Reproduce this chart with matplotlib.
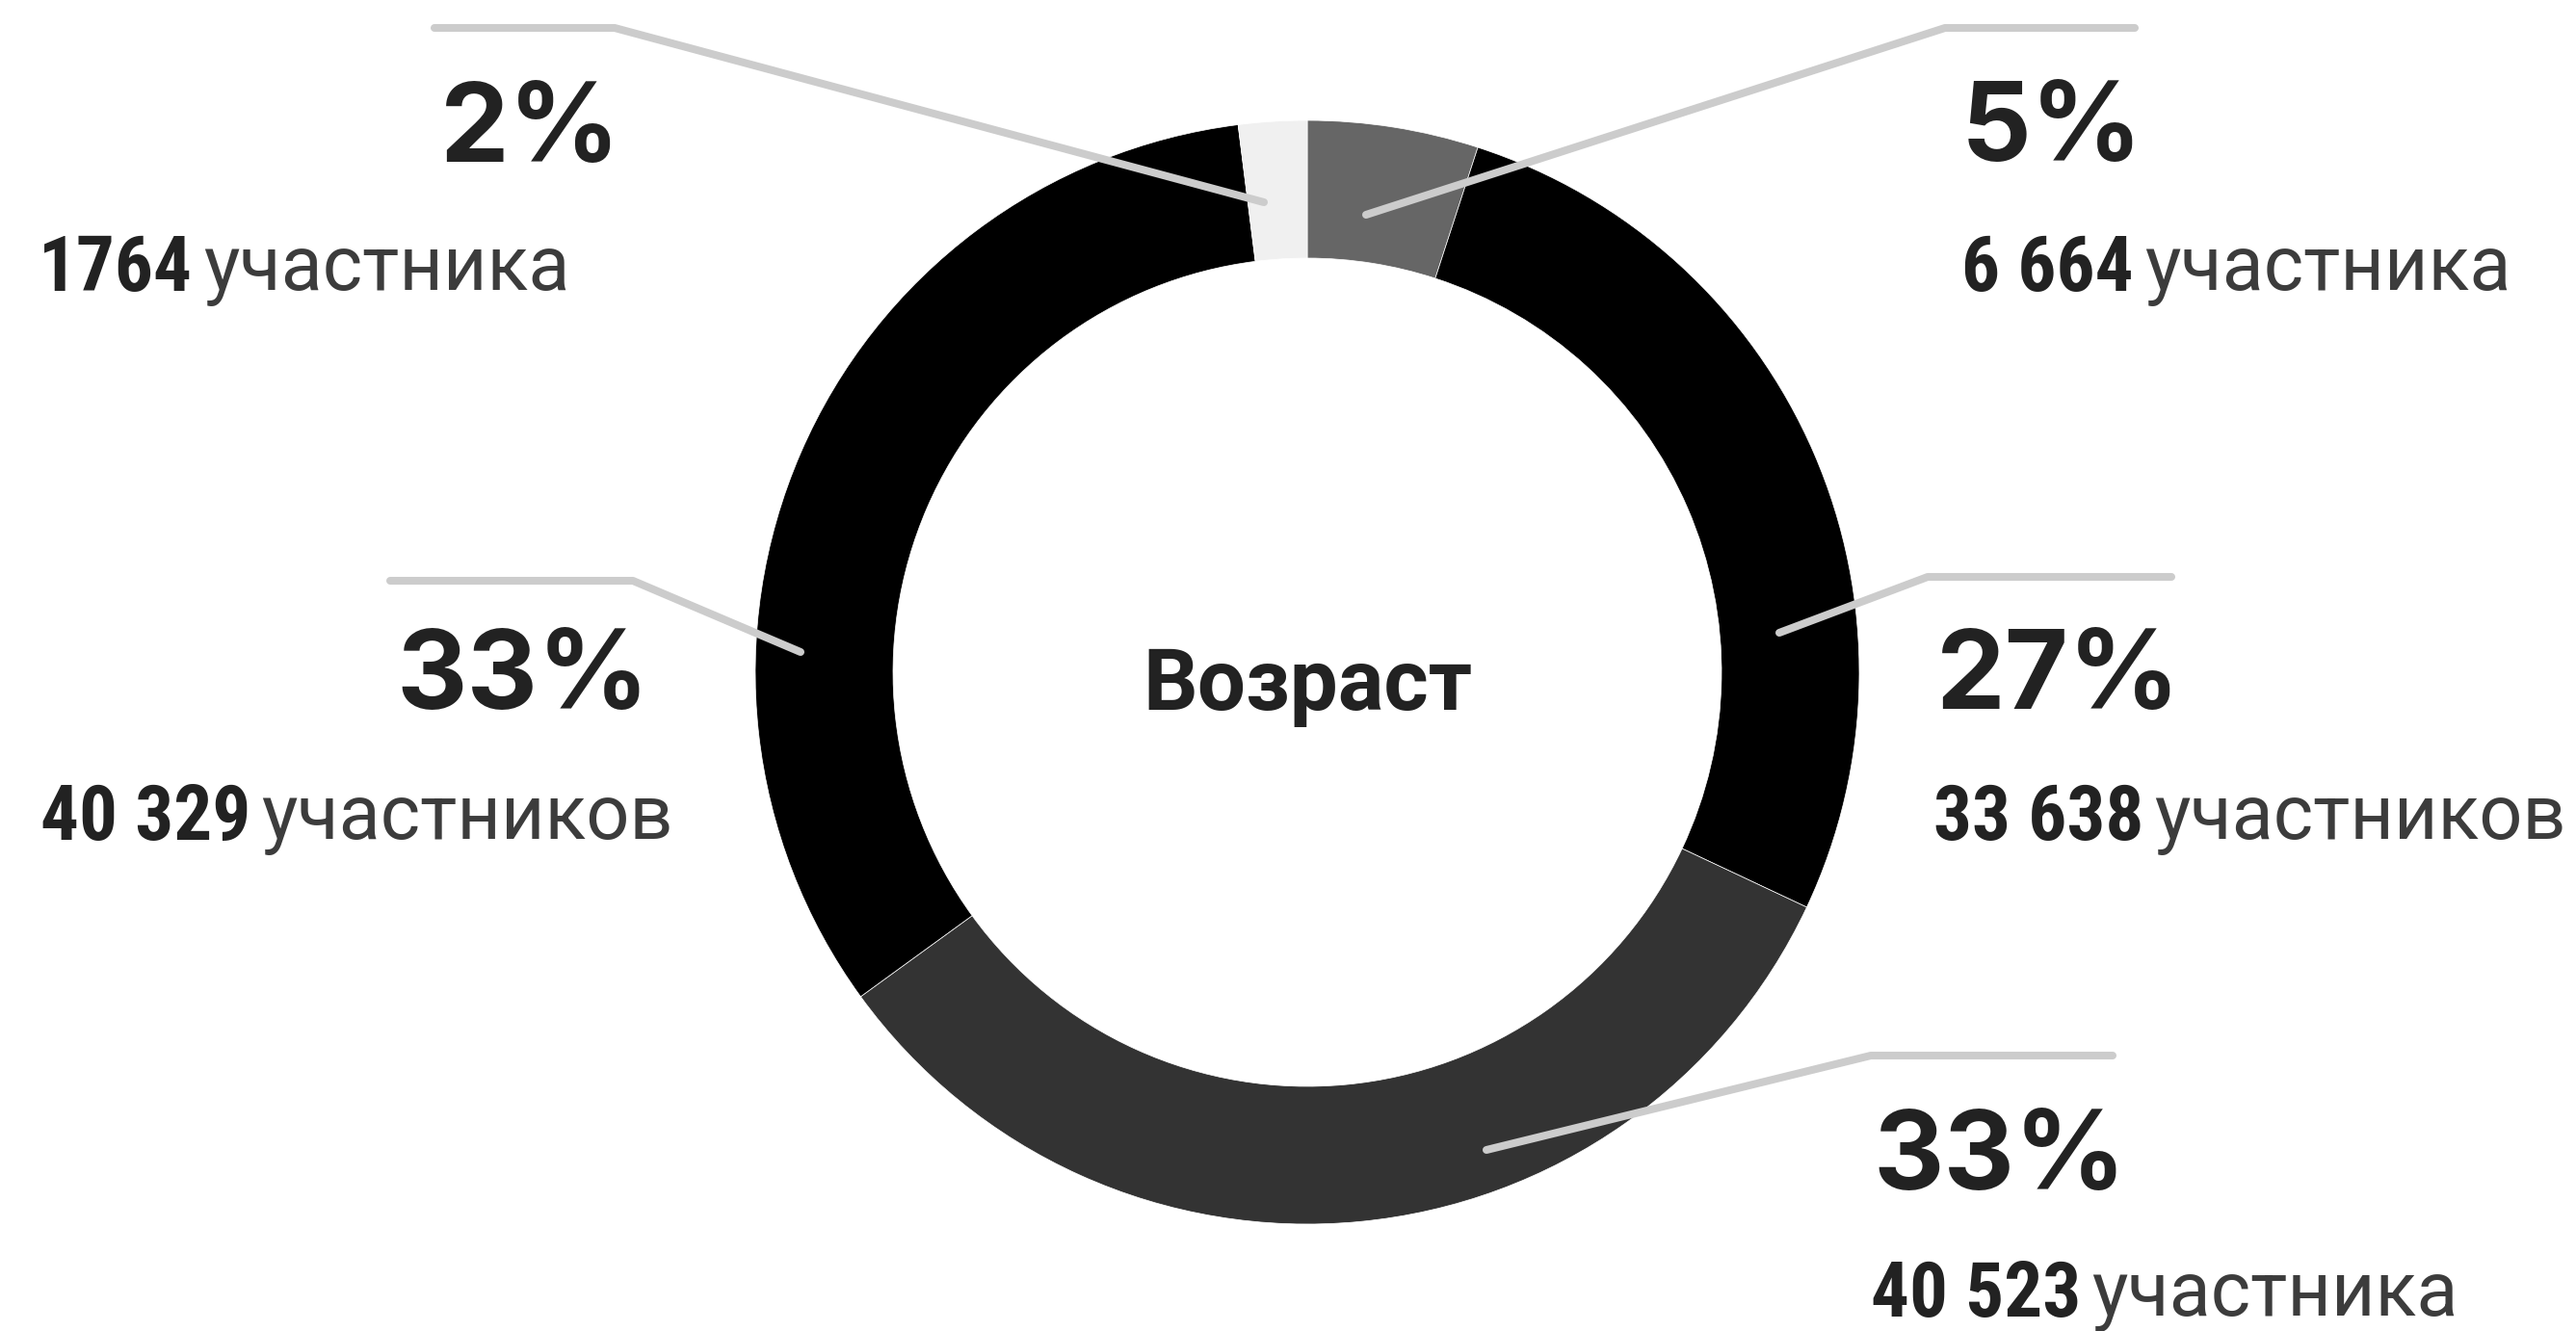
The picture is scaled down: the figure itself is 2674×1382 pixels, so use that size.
import matplotlib.pyplot as plt

plt.rcParams['font.family'] = ['Roboto', 'DejaVu Sans']

# данные
pct = [5, 27, 33, 33, 2]
num_labels = ['6 664', '33 638', '40 523', '40 329', '1764']
word_labels = ['участника', 'участников', 'участника', 'участников', 'участника']
colors = ['#666666', '#000000', '#333333', '#000000', '#f0f0f0']
center_title = 'Возраст'

# раскладка подписей (пиксели картинки, y сверху вниз)
pct_pos = [(2036, 167), (2010, 736), (1944, 1235), (411, 736), (457, 168)]
num_pos = [(2036, 302), (2007, 872), (1942, 1367), (42, 872), (40, 302)]
leaders = [
    [(1418, 223), (2019, 29), (2216, 29)],
    [(1847, 657), (2001, 599), (2254, 599)],
    [(1543, 1194), (1942, 1096), (2193, 1096)],
    [(831, 677), (657, 603), (405, 603)],
    [(1312, 210), (638, 29), (451, 29)],
]

W, H = 2674, 1382
CX, CY, R_OUT, R_IN = 1357, 698, 573, 430


def fy(y):
    return H - y


fig = plt.figure(figsize=(W / 100, H / 100), dpi=100)
ax = fig.add_axes([0, 0, 1, 1])

ax.pie(pct, colors=colors, startangle=90, counterclock=False,
       radius=R_OUT, center=(CX, fy(CY)),
       wedgeprops=dict(width=R_OUT - R_IN, edgecolor='white', linewidth=0.5))

ax.set_xlim(0, W)
ax.set_ylim(0, H)
ax.set_aspect('equal')
ax.axis('off')

for pts in leaders:
    xs = [p[0] for p in pts]
    ys = [fy(p[1]) for p in pts]
    ax.plot(xs, ys, color='#cccccc', lw=5.8, solid_capstyle='round',
            solid_joinstyle='round', zorder=5)

for i in range(len(pct)):
    px, py = pct_pos[i]
    ax.text(px, fy(py), f'{pct[i]}%', fontsize=82, fontweight='bold',
            family=['Inter', 'Roboto'],
            color='#222222', ha='left', va='baseline')
    nx, ny = num_pos[i]
    t = ax.text(nx, fy(ny), num_labels[i], fontsize=57, fontweight='bold',
                family=['Roboto Condensed', 'Roboto'],
                color='#222222', ha='left', va='baseline')
    ax.annotate(word_labels[i], xy=(1, 0), xycoords=t, xytext=(8, 0),
                textcoords='offset points', fontsize=57, color='#3c3c3c',
                ha='left', va='bottom')

ax.text(CX, fy(737), center_title, fontsize=64, fontweight='bold',
        color='#222222', ha='center', va='baseline')

fig.savefig('out.png', dpi=100)
